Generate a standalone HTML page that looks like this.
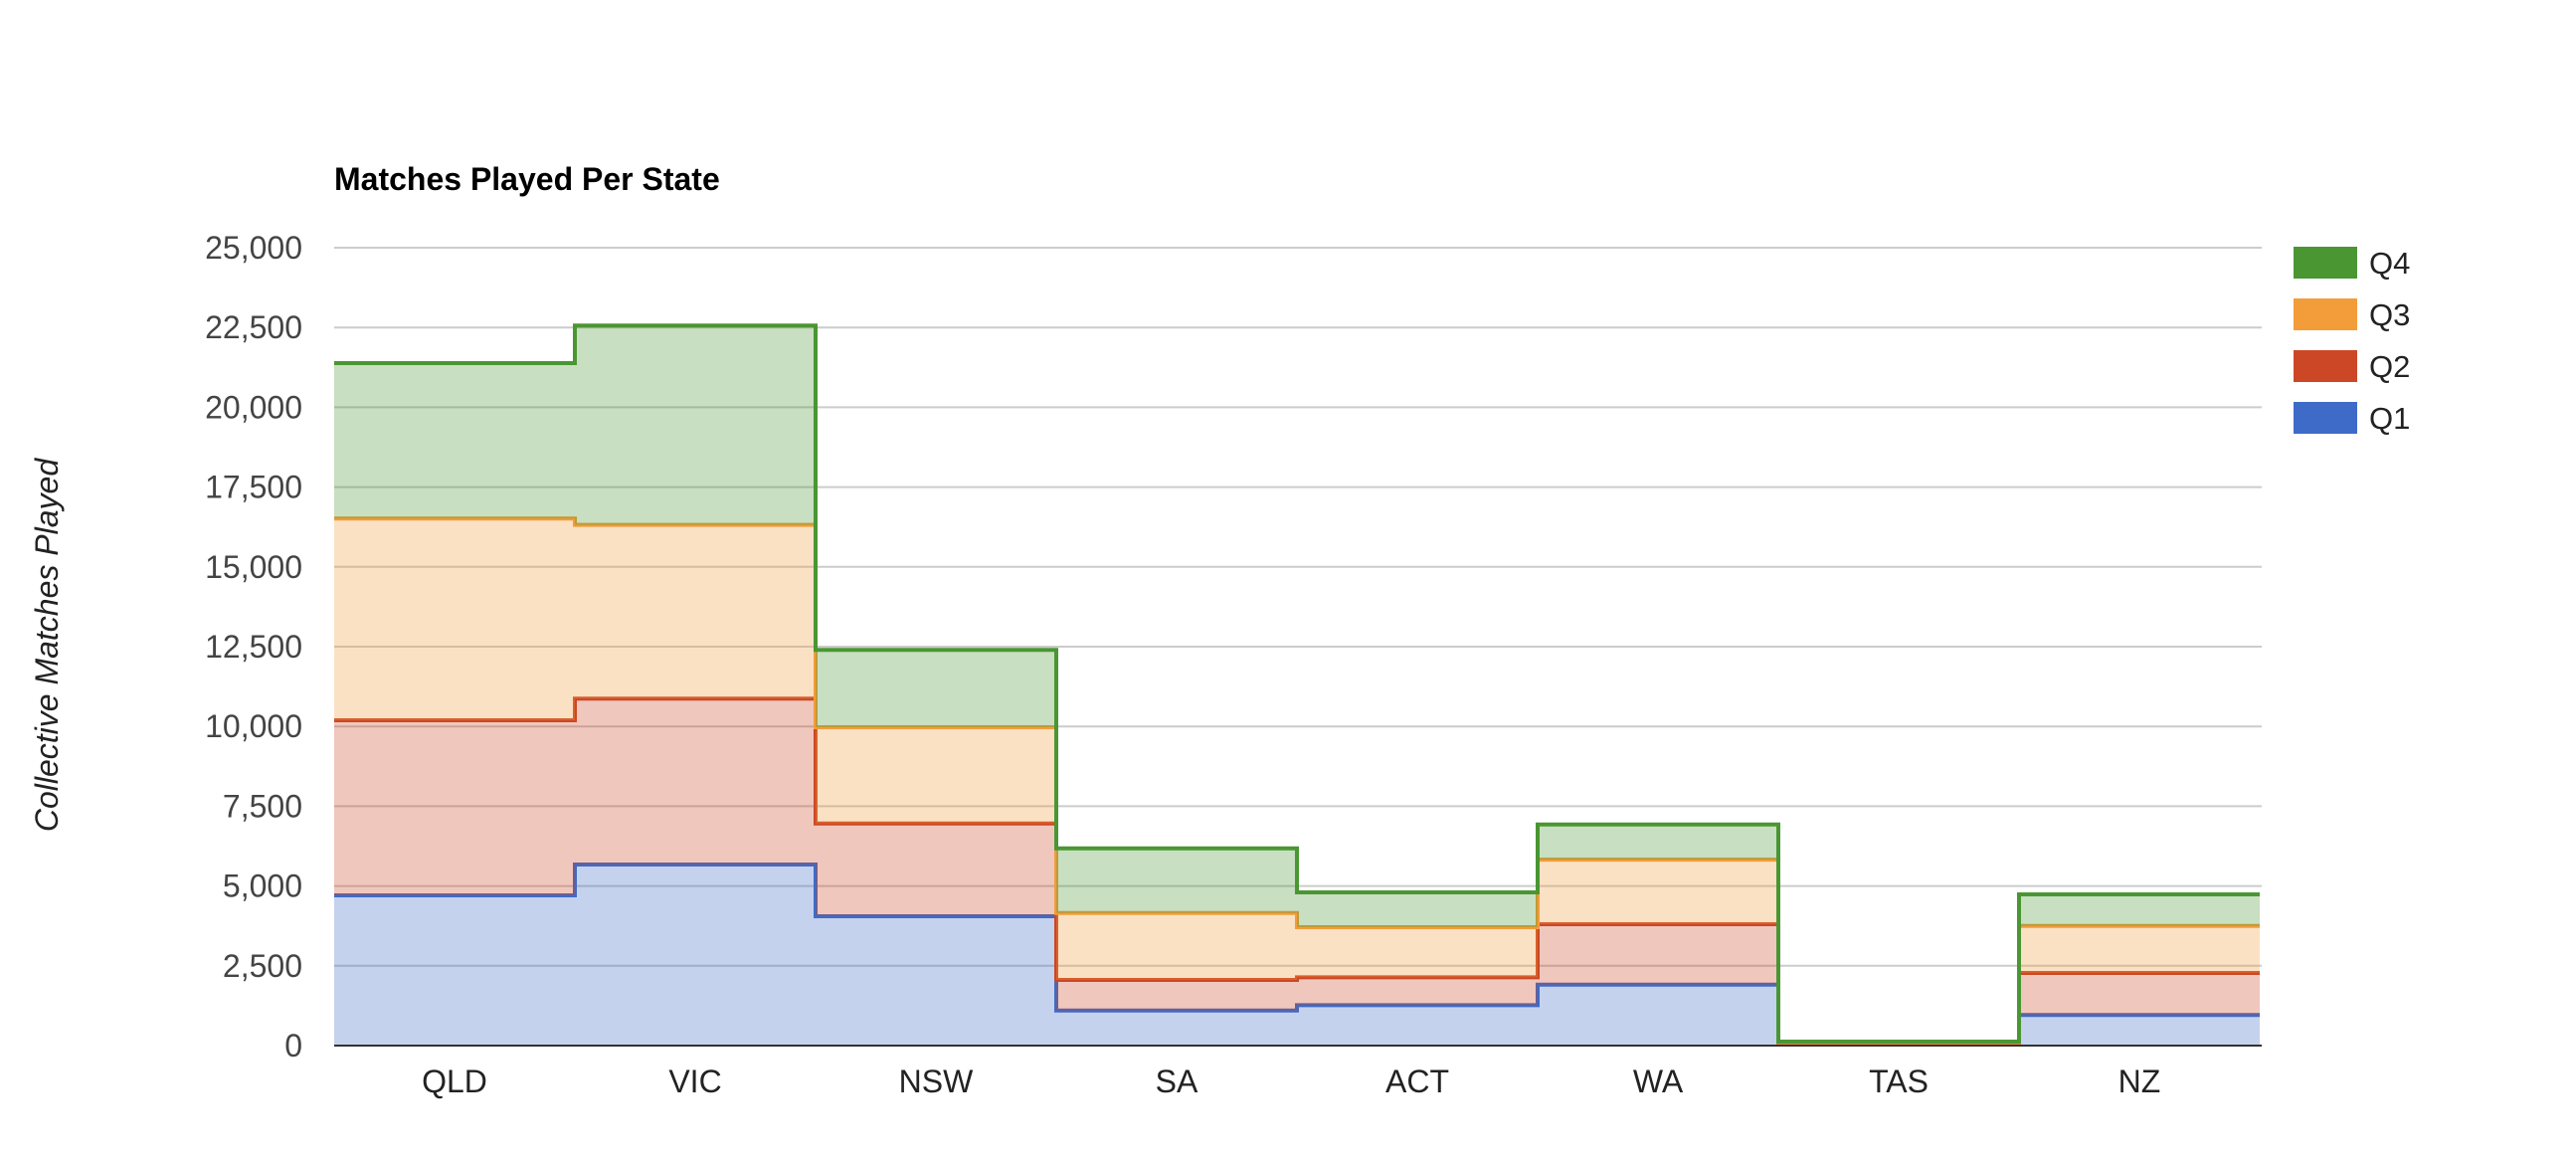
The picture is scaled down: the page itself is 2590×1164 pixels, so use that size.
<!DOCTYPE html>
<html lang="en">
<head>
<meta charset="utf-8">
<title>Matches Played Per State</title>
<style>
  html, body { margin: 0; padding: 0; background: #fff; }
  body { width: 2590px; height: 1164px; overflow: hidden; }
  svg { display: block; font-family: "Liberation Sans", Arial, sans-serif; }
</style>
</head>
<body>
<svg id="chart" xmlns="http://www.w3.org/2000/svg" width="2590" height="1164" viewBox="0 0 2590 1164">
  <rect x="0" y="0" width="2590" height="1164" fill="#ffffff"/>
  <text x="336" y="191" font-size="32" font-weight="700" fill="#000000">Matches Played Per State</text>
  <g id="gridlines"></g>
  <g id="plot"></g>
  <rect x="336" y="1050" width="1938" height="2" fill="#333333"/>
  <g id="y-ticks" font-size="32" fill="#444444" text-anchor="end"></g>
  <g id="x-ticks" font-size="32" fill="#222222" text-anchor="middle"></g>
  <text transform="translate(58 648.5) rotate(-90)" font-size="32" font-style="italic" fill="#222222" text-anchor="middle">Collective Matches Played</text>
  <g font-size="31" fill="#222222">
    <g>
      <rect x="2306" y="248" width="64" height="32" fill="#4a9633"/>
      <text x="2382" y="275">Q4</text>
    </g>
    <g>
      <rect x="2306" y="300" width="64" height="32" fill="#f29d3a"/>
      <text x="2382" y="327">Q3</text>
    </g>
    <g>
      <rect x="2306" y="352" width="64" height="32" fill="#cc4726"/>
      <text x="2382" y="379">Q2</text>
    </g>
    <g>
      <rect x="2306" y="404" width="64" height="32" fill="#3e6bc7"/>
      <text x="2382" y="431">Q1</text>
    </g>
  </g>
</svg>
<script>
var categories = ["QLD", "VIC", "NSW", "SA", "ACT", "WA", "TAS", "NZ"];
var q1Values = [4707, 5673, 4052, 1100, 1268, 1910, 40, 957];
var q2Values = [5486, 5197, 2909, 957, 872, 1892, 30, 1318];
var q3Values = [6319, 5443, 3014, 2098, 1568, 2025, 30, 1474];
var q4Values = [4872, 6246, 2422, 2025, 1092, 1101, 25, 988];
var seriesNames = ["Q1", "Q2", "Q3", "Q4"];
var seriesColors = ["#3e6bc7", "#cc4726", "#f29d3a", "#4a9633"];
var yTickValues = [0, 2500, 5000, 7500, 10000, 12500, 15000, 17500, 20000, 22500, 25000];
var yTickLabels = ["0", "2,500", "5,000", "7,500", "10,000", "12,500", "15,000", "17,500", "20,000", "22,500", "25,000"];

var NS = "http://www.w3.org/2000/svg";
var plotLeft = 336, categoryWidth = 242, gridRight = 2274;
var yZero = 1051, yTop = 249, yMax = 25000;

function xScale(index) { return plotLeft + index * categoryWidth; }
function yScale(value) { return yZero - (value / yMax) * (yZero - yTop); }
function make(tag) { return document.createElementNS(NS, tag); }

var gridGroup = document.getElementById("gridlines");
var yTickGroup = document.getElementById("y-ticks");
var xTickGroup = document.getElementById("x-ticks");
var plotGroup = document.getElementById("plot");

yTickValues.forEach(function (value, i) {
  if (value !== 0) {
    var grid = make("line");
    
    
    grid.setAttribute("x1", plotLeft);
    grid.setAttribute("x2", gridRight);
    grid.setAttribute("y1", yScale(value));
    grid.setAttribute("y2", yScale(value));
    grid.setAttribute("stroke", "#cccccc");
    grid.setAttribute("stroke-width", "2");
    gridGroup.appendChild(grid);
  }
  var label = make("text");
  
  
  label.setAttribute("x", 304);
  label.setAttribute("y", yScale(value) + 11);
  label.textContent = yTickLabels[i];
  yTickGroup.appendChild(label);
});

categories.forEach(function (name, i) {
  var label = make("text");
  
  
  label.setAttribute("x", xScale(i) + categoryWidth / 2);
  label.setAttribute("y", 1098);
  label.textContent = name;
  xTickGroup.appendChild(label);
});

var allSeries = [q1Values, q2Values, q3Values, q4Values];
var baseline = categories.map(function () { return 0; });

allSeries.forEach(function (values, s) {
  var top = values.map(function (v, i) { return baseline[i] + v; });

  var lineD = "";
  top.forEach(function (v, i) {
    lineD += (i === 0 ? "M" + xScale(0) + " " + yScale(v) : "V" + yScale(v)) + "H" + xScale(i + 1);
  });

  var areaD = lineD;
  for (var i = baseline.length - 1; i >= 0; i--) {
    areaD += "V" + yScale(baseline[i]) + "H" + xScale(i);
  }
  areaD += "Z";

  var area = make("path");
  
  
  area.setAttribute("d", areaD);
  area.setAttribute("fill", seriesColors[s]);
  area.setAttribute("fill-opacity", "0.3");
  plotGroup.appendChild(area);

  var line = make("path");
  
  
  line.setAttribute("d", lineD);
  line.setAttribute("fill", "none");
  line.setAttribute("stroke", seriesColors[s]);
  line.setAttribute("stroke-width", "4");
  line.setAttribute("stroke-linejoin", "miter");
  plotGroup.appendChild(line);

  baseline = top;
});
</script>
</body>
</html>
